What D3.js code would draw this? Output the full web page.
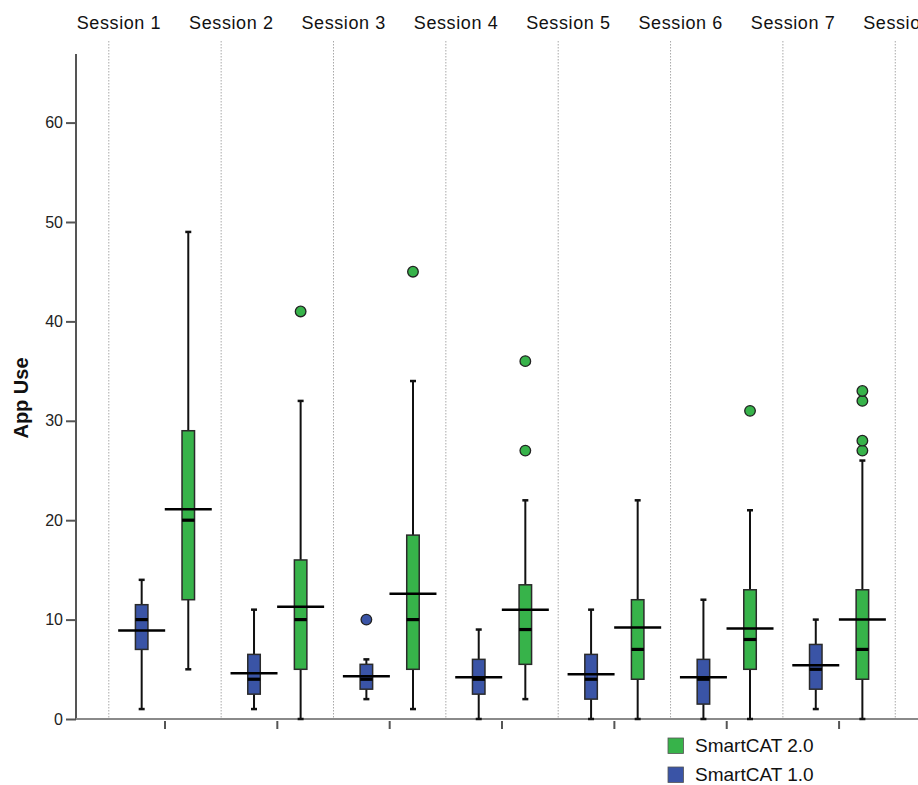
<!DOCTYPE html>
<html>
<head>
<meta charset="utf-8">
<script src="https://cdn.jsdelivr.net/npm/d3@7"></script>
<style>
  html, body { margin: 0; padding: 0; background: #fff; overflow: hidden; }
  svg { display: block; }
  text { font-family: "Liberation Sans", Arial, Helvetica, sans-serif; }
</style>
</head>
<body>
<svg id="chart" width="918" height="785"></svg>
<script>
// ---- data ----
const sessions = ["Session 1","Session 2","Session 3","Session 4","Session 5","Session 6","Session 7","Session 8"];
const seriesNames = ["SmartCAT 1.0", "SmartCAT 2.0"];
const yTicks = [0, 10, 20, 30, 40, 50, 60];

// SmartCAT 1.0 (blue), sessions 1-7 (session 8 is cut off in the reference)
const sc1Min  = [1, 1, 2, 0, 0, 0, 1];
const sc1Q1   = [7, 2.5, 3, 2.5, 2, 1.5, 3];
const sc1Med  = [10, 4, 4, 4, 4, 4, 5];
const sc1Q3   = [11.5, 6.5, 5.5, 6, 6.5, 6, 7.5];
const sc1Max  = [14, 11, 6, 9, 11, 12, 10];
const sc1Mean = [8.9, 4.6, 4.3, 4.2, 4.5, 4.2, 5.4];
const sc1Out  = [[], [], [10], [], [], [], []];

// SmartCAT 2.0 (green)
const sc2Min  = [5, 0, 1, 2, 0, 0, 0];
const sc2Q1   = [12, 5, 5, 5.5, 4, 5, 4];
const sc2Med  = [20, 10, 10, 9, 7, 8, 7];
const sc2Q3   = [29, 16, 18.5, 13.5, 12, 13, 13];
const sc2Max  = [49, 32, 34, 22, 22, 21, 26];
const sc2Mean = [21.1, 11.3, 12.6, 11.0, 9.2, 9.1, 10.0];
const sc2Out  = [[], [41], [45], [27, 36], [], [31], [27, 28, 32, 33]];

const colors = { "SmartCAT 1.0": "#3a54a6", "SmartCAT 2.0": "#37b34a" };

// ---- layout ----
const svg = d3.select("#chart");
const axisLeftX = 76, axisBottomY = 719, axisTopY = 54;

const x = d3.scaleBand().domain(sessions).range([108.8, 108.8 + 112.35 * sessions.length]).padding(0);
const y = d3.scaleLinear().domain([0, 66.9]).range([axisBottomY, axisTopY]);
const off = d3.scaleOrdinal().domain(seriesNames).range([-23.3, 23.3]);

function cx(i) { return x(sessions[i]) + x.bandwidth() / 2; }

// dotted separators
svg.append("g").selectAll("line").data(sessions).join("line")
  .attr("x1", d => x(d)).attr("x2", d => x(d))
  .attr("y1", 41).attr("y2", axisBottomY)
  .attr("stroke", "#a8a8a8").attr("stroke-width", 1)
  .attr("stroke-dasharray", "1.5,1.5");

// session labels on top
svg.append("g").selectAll("text").data(sessions).join("text")
  .attr("x", d => x(d) + x.bandwidth() / 2 - 46)
  .attr("y", 29)
  .attr("text-anchor", "middle")
  .attr("font-size", "18px")
  .attr("letter-spacing", "0.6px")
  .attr("fill", "#111")
  .text(d => d);

// y axis
const yAxis = d3.axisLeft(y).tickValues(yTicks).tickSize(10).tickPadding(3).tickFormat(d3.format("d"));
const gy = svg.append("g").attr("transform", `translate(${axisLeftX},0)`).call(yAxis);
gy.select(".domain").remove();
gy.selectAll(".tick line").attr("stroke", "#555").attr("stroke-width", 2);
gy.selectAll(".tick text").attr("font-size", "16px").attr("fill", "#222")
  .attr("font-family", "'Liberation Sans', Arial, sans-serif");
svg.append("line").attr("x1", axisLeftX).attr("x2", axisLeftX)
  .attr("y1", axisTopY).attr("y2", axisBottomY + 1)
  .attr("stroke", "#555").attr("stroke-width", 2);

// x axis
const xAxis = d3.axisBottom(x).tickSize(10).tickFormat("");
const gx = svg.append("g").attr("transform", `translate(0,${axisBottomY})`).call(xAxis);
gx.select(".domain").remove();
gx.selectAll(".tick line").attr("stroke", "#555").attr("stroke-width", 2).attr("y1", 2);
svg.append("line").attr("x1", axisLeftX).attr("x2", 918)
  .attr("y1", axisBottomY).attr("y2", axisBottomY)
  .attr("stroke", "#8a8a8a").attr("stroke-width", 2);

// y title
svg.append("text")
  .attr("transform", "translate(28,398) rotate(-90)")
  .attr("text-anchor", "middle")
  .attr("font-size", "20px").attr("font-weight", "bold").attr("fill", "#111")
  .text("App Use");

// ---- boxes ----
const groups = [
  { name: "SmartCAT 1.0", min: sc1Min, q1: sc1Q1, med: sc1Med, q3: sc1Q3, max: sc1Max, mean: sc1Mean, out: sc1Out },
  { name: "SmartCAT 2.0", min: sc2Min, q1: sc2Q1, med: sc2Med, q3: sc2Q3, max: sc2Max, mean: sc2Mean, out: sc2Out }
];
const boxW = 12.5, capW = 6, meanW = 47;

groups.forEach(g => {
  const gg = svg.append("g");
  g.min.forEach((_, i) => {
    const c = cx(i) + off(g.name);
    gg.append("line").attr("x1", c).attr("x2", c).attr("y1", y(g.max[i])).attr("y2", y(g.q3[i]))
      .attr("stroke", "#111").attr("stroke-width", 2);
    gg.append("line").attr("x1", c).attr("x2", c).attr("y1", y(g.q1[i])).attr("y2", y(g.min[i]))
      .attr("stroke", "#111").attr("stroke-width", 2);
    [g.max[i], g.min[i]].forEach(v => {
      gg.append("line").attr("x1", c - capW / 2).attr("x2", c + capW / 2).attr("y1", y(v)).attr("y2", y(v))
        .attr("stroke", "#111").attr("stroke-width", 2.5);
    });
    gg.append("rect").attr("x", c - boxW / 2).attr("width", boxW)
      .attr("y", y(g.q3[i])).attr("height", y(g.q1[i]) - y(g.q3[i]))
      .attr("fill", colors[g.name]).attr("stroke", "#2a2a2a").attr("stroke-width", 1.5);
    gg.append("line").attr("x1", c - boxW / 2).attr("x2", c + boxW / 2)
      .attr("y1", y(g.med[i])).attr("y2", y(g.med[i]))
      .attr("stroke", "#000").attr("stroke-width", 3.2);
    gg.append("line").attr("x1", c - meanW / 2).attr("x2", c + meanW / 2)
      .attr("y1", y(g.mean[i])).attr("y2", y(g.mean[i]))
      .attr("stroke", "#000").attr("stroke-width", 2.5);
    g.out[i].forEach(v => {
      gg.append("circle").attr("cx", c).attr("cy", y(v)).attr("r", 5.3)
        .attr("fill", colors[g.name]).attr("stroke", "#222").attr("stroke-width", 1.3);
    });
  });
});

// ---- legend ----
const legendItems = ["SmartCAT 2.0", "SmartCAT 1.0"];
const lg = svg.append("g").selectAll("g").data(legendItems).join("g")
  .attr("transform", (d, i) => `translate(668,${738 + i * 29})`);
lg.append("rect").attr("width", 15.5).attr("height", 15.5)
  .attr("fill", d => colors[d]).attr("stroke", "#555").attr("stroke-width", 0.8);
lg.append("text").attr("x", 27).attr("y", 14).attr("font-size", "19px").attr("fill", "#111")
  .text(d => d);
</script>
</body>
</html>
